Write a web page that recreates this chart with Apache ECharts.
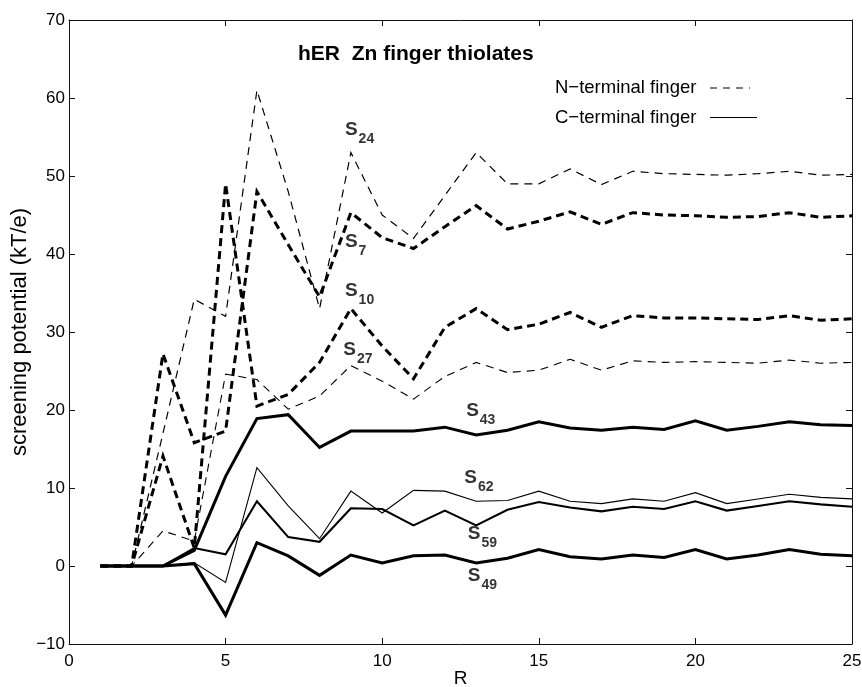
<!DOCTYPE html>
<html>
<head>
<meta charset="utf-8">
<script src="https://cdn.jsdelivr.net/npm/echarts@6/dist/echarts.min.js"></script>
<style>
  html, body { margin: 0; padding: 0; background: #fff; }
  #chart { width: 862px; height: 687px; }
</style>
</head>
<body>
<div id="chart"></div>
<script>
// Separation R
const R = [1, 2, 3, 4, 5, 6, 7, 8, 9, 10, 11, 12, 13, 14, 15, 16, 17, 18, 19, 20, 21, 22, 23, 24, 25];

// N-terminal finger thiolates (kT/e)
const s24 = [0, 0, 17, 34.2, 32, 61, 48, 33, 53, 45, 42, 47.5, 53, 49, 49, 50.9, 48.9, 50.6, 50.3, 50.2, 50.1, 50.3, 50.6, 50.1, 50.2];
const s7  = [0, 0, 27.2, 15.8, 17.3, 48, 41.2, 34.5, 45.3, 42.1, 40.7, 43.5, 46.2, 43.2, 44.2, 45.4, 43.8, 45.3, 45.0, 44.9, 44.7, 44.8, 45.3, 44.7, 44.9];
const s10 = [0, 0, 14.1, 2.3, 49, 20.5, 22, 26.1, 33.0, 28.2, 24.0, 30.6, 33.0, 30.3, 31.0, 32.5, 30.6, 32.1, 31.8, 31.8, 31.7, 31.6, 32.1, 31.5, 31.7];
const s27 = [0, 0, 4.5, 3.2, 24.6, 23.9, 20.1, 21.8, 25.7, 23.7, 21.4, 24.3, 26.1, 24.8, 25.1, 26.5, 25.1, 26.3, 26.1, 26.2, 26.1, 26.0, 26.4, 26.0, 26.1];

// C-terminal finger thiolates (kT/e)
const s43 = [0, 0, 0, 2.0, 11.5, 18.9, 19.4, 15.2, 17.3, 17.3, 17.3, 17.8, 16.8, 17.4, 18.5, 17.7, 17.4, 17.8, 17.5, 18.6, 17.4, 17.9, 18.5, 18.1, 18.0];
const s62 = [0, 0, 0, 0.4, -2.1, 12.6, 7.7, 3.5, 9.6, 6.8, 9.7, 9.6, 8.3, 8.4, 9.6, 8.3, 8.0, 8.6, 8.3, 9.4, 8.0, 8.6, 9.2, 8.8, 8.6];
const s59 = [0, 0, 0, 2.3, 1.5, 8.3, 3.7, 3.1, 7.4, 7.3, 5.2, 7.1, 5.2, 7.2, 8.2, 7.5, 7.0, 7.6, 7.3, 8.3, 7.1, 7.7, 8.3, 7.9, 7.6];
const s49 = [0, 0, 0, 0.3, -6.3, 3.0, 1.3, -1.2, 1.4, 0.4, 1.3, 1.4, 0.4, 1.0, 2.1, 1.2, 0.9, 1.4, 1.1, 2.1, 0.9, 1.4, 2.1, 1.5, 1.3];

// Residue subscripts and where their tags sit (data coordinates, top-left of tag)
const siteNumbers = ['24', '7', '10', '27', '43', '62', '59', '49'];
const siteTagR    = [8.81, 8.81, 8.81, 8.76, 12.68, 12.62, 12.73, 12.73];
const siteTagV    = [57.1, 42.8, 36.5, 28.9, 21.1, 12.5, 5.4, 0.0];

// Axis ticks
const xTicks = { min: 0, max: 25, step: 5 };
const yTicks = { min: -10, max: 70, step: 10 };

const FONT = '"Liberation Sans", Arial, Helvetica, sans-serif';
const INK = '#000';

const lineSpecs = [
  { data: s24, width: 1.2, dash: [8, 6] },
  { data: s7,  width: 3.0, dash: [8, 5] },
  { data: s10, width: 3.0, dash: [8, 5] },
  { data: s27, width: 1.1, dash: [8, 6] },
  { data: s43, width: 3.0, dash: 'solid' },
  { data: s62, width: 1.1, dash: 'solid' },
  { data: s59, width: 2.1, dash: 'solid' },
  { data: s49, width: 3.0, dash: 'solid' }
];

const chart = echarts.init(document.getElementById('chart'), null, { renderer: 'canvas' });

const frameLine = { show: true, onZero: false, lineStyle: { color: '#111', width: 1 } };
const innerTick = { show: true, inside: true, length: 6, lineStyle: { color: '#111', width: 1 } };

const series = lineSpecs.map(s => ({
  type: 'line',
  xAxisIndex: 0,
  yAxisIndex: 0,
  data: R.map((r, i) => [r, s.data[i]]),
  symbol: 'none',
  smooth: false,
  silent: true,
  lineStyle: { color: INK, width: s.width, type: s.dash, cap: 'butt', join: 'miter' },
  z: 3
}));

series.push({
  type: 'scatter',
  xAxisIndex: 0,
  yAxisIndex: 0,
  symbolSize: 0,
  silent: true,
  data: siteNumbers.map((n, i) => [siteTagR[i], siteTagV[i], n]),
  label: {
    show: true,
    position: [0, 0],
    align: 'left',
    verticalAlign: 'top',
    formatter: p => '{s|S}{sub|' + p.value[2] + '}',
    rich: {
      s: { fontFamily: FONT, fontSize: 19, fontWeight: 'bold', color: INK, lineHeight: 20, verticalAlign: 'top' },
      sub: { fontFamily: FONT, fontSize: 14, fontWeight: 'bold', color: INK, lineHeight: 14, padding: [12, 0, 0, 1], verticalAlign: 'top' }
    }
  },
  z: 5
});

chart.setOption({
  animation: false,
  backgroundColor: '#fff',
  grid: { left: 69, right: 10, top: 20, bottom: 43, containLabel: false, outerBoundsMode: 'none' },
  xAxis: [
    {
      type: 'value', position: 'bottom',
      min: xTicks.min, max: xTicks.max, interval: xTicks.step,
      name: 'R', nameLocation: 'middle', nameGap: 25, nameMoveOverlap: false,
      nameTextStyle: { fontFamily: FONT, fontSize: 19, color: INK },
      axisLine: frameLine, axisTick: innerTick,
      axisLabel: { fontFamily: FONT, fontSize: 17, color: INK, margin: 9 },
      splitLine: { show: false }
    },
    {
      type: 'value', position: 'top',
      min: xTicks.min, max: xTicks.max, interval: xTicks.step,
      axisLine: frameLine, axisTick: innerTick,
      axisLabel: { show: false }, splitLine: { show: false }
    }
  ],
  yAxis: [
    {
      type: 'value', position: 'left',
      min: yTicks.min, max: yTicks.max, interval: yTicks.step,
      name: 'screening potential (kT/e)', nameLocation: 'middle', nameGap: 38, nameMoveOverlap: false,
      nameTextStyle: { fontFamily: FONT, fontSize: 22, color: INK },
      axisLine: frameLine, axisTick: innerTick,
      axisLabel: {
        fontFamily: FONT, fontSize: 17, color: INK, margin: 4,
        formatter: v => String(v).replace('-', '\u2212')
      },
      splitLine: { show: false }
    },
    {
      type: 'value', position: 'right',
      min: yTicks.min, max: yTicks.max, interval: yTicks.step,
      axisLine: frameLine, axisTick: innerTick,
      axisLabel: { show: false }, splitLine: { show: false }
    }
  ],
  graphic: [
    {
      type: 'text', x: 298, y: 54, silent: true,
      style: { text: 'hER  Zn finger thiolates', font: 'bold 21px ' + FONT, fill: INK, align: 'left', verticalAlign: 'middle' }
    },
    {
      type: 'text', x: 555, y: 88, silent: true,
      style: { text: 'N\u2212terminal finger', font: '18.5px ' + FONT, fill: INK, align: 'left', verticalAlign: 'middle' }
    },
    {
      type: 'line', silent: true,
      shape: { x1: 710, y1: 88, x2: 750, y2: 88 },
      style: { stroke: INK, lineWidth: 1.2, lineDash: [7, 6] }
    },
    {
      type: 'text', x: 555, y: 118, silent: true,
      style: { text: 'C\u2212terminal finger', font: '18.5px ' + FONT, fill: INK, align: 'left', verticalAlign: 'middle' }
    },
    {
      type: 'line', silent: true,
      shape: { x1: 710, y1: 117.5, x2: 757, y2: 117.5 },
      style: { stroke: INK, lineWidth: 1.2 }
    }
  ],
  series: series
});
</script>
</body>
</html>
